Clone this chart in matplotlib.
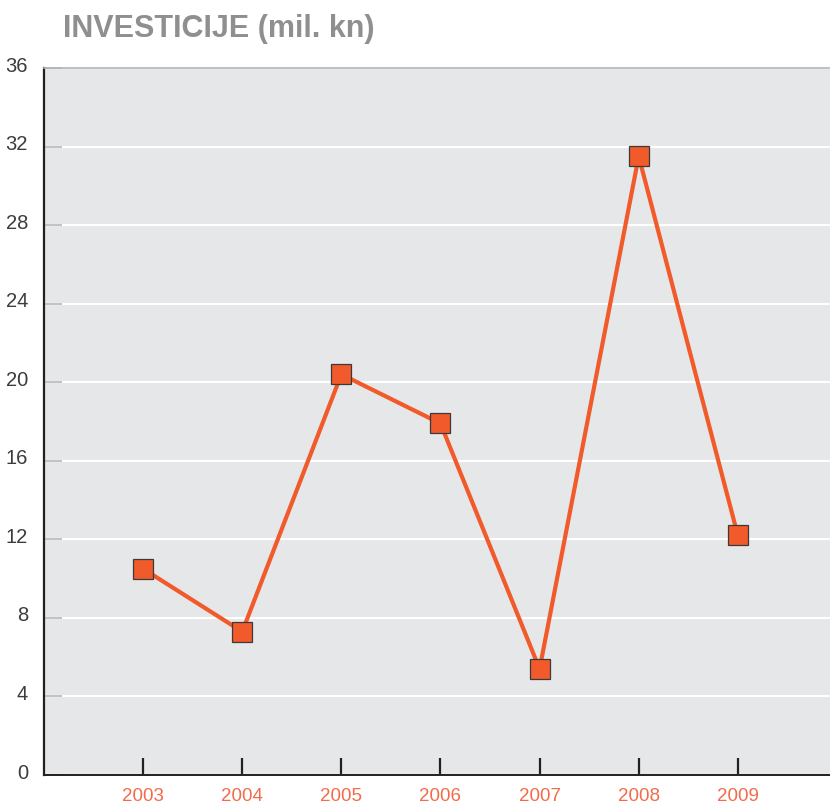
import matplotlib
matplotlib.use("Agg")
import matplotlib.pyplot as plt
import matplotlib.transforms as mtransforms

# Data
years = [2003, 2004, 2005, 2006, 2007, 2008, 2009]
investicije = [10.5, 7.3, 20.4, 17.9, 5.4, 31.5, 12.2]
yticks = [0, 4, 8, 12, 16, 20, 24, 28, 32, 36]

plt.rcParams['font.family'] = ['Liberation Sans', 'DejaVu Sans']

fig = plt.figure(figsize=(8.3, 8.05), dpi=100)
ax = fig.add_axes([44/830, 30/805, 786/830, 707/805])
ax.set_facecolor("#e6e7e8")

ax.plot(years, investicije, color="#f15a2b", linewidth=3, marker="s",
        markersize=14, markerfacecolor="#f15a2b", markeredgecolor="#3a3a3a",
        markeredgewidth=0.9, zorder=3)

ax.set_xlim(2002, 2009.93)
ax.set_ylim(0, 36)

ax.set_yticks(yticks)
ax.set_yticklabels([str(v) for v in yticks])
ax.yaxis.grid(True, color="white", linewidth=1.5)
ax.set_axisbelow(True)
ax.tick_params(axis="y", direction="in", length=13, width=1.2, color="#b8b8b8",
               labelsize=14.5, labelcolor="#3c3c3c", pad=11.5)
offset = mtransforms.ScaledTranslation(0, 4/100, fig.dpi_scale_trans)
for lbl in ax.get_yticklabels():
    lbl.set_transform(lbl.get_transform() + offset)

ax.set_xticks(years)
ax.set_xticklabels([str(y) for y in years])
ax.tick_params(axis="x", direction="in", length=12.5, width=1.6, color="#231f20",
               labelsize=13.5, labelcolor="#f26b4a", pad=9)

ax.spines["right"].set_visible(False)
ax.spines["top"].set_color("#b5b5b5")
ax.spines["top"].set_linewidth(1.2)
ax.spines["left"].set_color("#231f20")
ax.spines["left"].set_linewidth(1.6)
ax.spines["bottom"].set_color("#231f20")
ax.spines["bottom"].set_linewidth(1.4)

fig.text(63/830, 1 - 29/805, "INVESTICIJE (mil. kn)", fontsize=22,
         fontweight="bold", color="#8f8f8f", va="center", ha="left")

fig.savefig("out.png", dpi=100)
